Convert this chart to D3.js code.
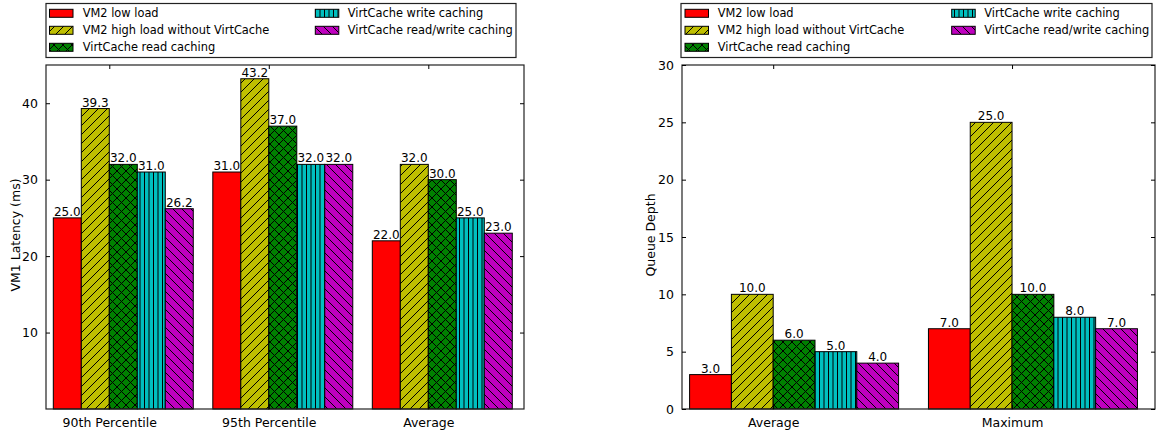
<!DOCTYPE html>
<html>
<head>
<meta charset="utf-8">
<script src="https://cdn.jsdelivr.net/npm/d3@7"></script>
<style>
  html, body { margin: 0; padding: 0; background: #fff; }
  svg { display: block; font-family: "DejaVu Sans", sans-serif; }
</style>
</head>
<body>
<svg id="chart" width="1158" height="430"></svg>
<script>
// ---------------- DATA ----------------
const seriesNames = [
  "VM2 low load",
  "VM2 high load without VirtCache",
  "VirtCache read caching",
  "VirtCache write caching",
  "VirtCache read/write caching"
];

const latencyCategories = ["90th Percentile", "95th Percentile", "Average"];
const latencyLow       = [25.0, 31.0, 22.0];
const latencyHigh      = [39.3, 43.2, 32.0];
const latencyRead      = [32.0, 37.0, 30.0];
const latencyWrite     = [31.0, 32.0, 25.0];
const latencyReadWrite = [26.2, 32.0, 23.0];
const latencyTicks     = [10, 20, 30, 40];

const queueCategories = ["Average", "Maximum"];
const queueLow       = [3.0, 7.0];
const queueHigh      = [10.0, 25.0];
const queueRead      = [6.0, 10.0];
const queueWrite     = [5.0, 8.0];
const queueReadWrite = [4.0, 7.0];
const queueTicks     = [0, 5, 10, 15, 20, 25, 30];

// ---------------- STYLE ----------------
const colors  = ["#ff0000", "#bfbf00", "#008000", "#00bfbf", "#bf00bf"];
const hatches = ["none", "fwd", "cross", "vert", "back"];

const svg = d3.select("#chart");
const defs = svg.append("defs");

// hatch patterns (background colour included)
colors.forEach((c, i) => {
  const h = hatches[i];
  const id = "pat" + i;
  if (h === "none") return;
  const w = 9;
  const p = defs.append("pattern").attr("id", id)
    .attr("patternUnits", "userSpaceOnUse")
    .attr("width", w).attr("height", 9);
  p.append("rect").attr("width", w).attr("height", 9).attr("fill", c);
  const stroke = s => s.attr("stroke", "#000").attr("stroke-width", 1).attr("fill", "none");
  if (h === "fwd" || h === "cross") {
    stroke(p.append("path").attr("d", "M0,9 L9,0 M-1,1 L1,-1 M8,10 L10,8"));
  }
  if (h === "back" || h === "cross") {
    stroke(p.append("path").attr("d", "M0,0 L9,9 M-1,8 L1,10 M8,-1 L10,1"));
  }
  if (h === "vert") {
    stroke(p.append("path").attr("d", "M0.5,0 L0.5,9 M5,0 L5,9"));
  }
});
const fillOf = i => hatches[i] === "none" ? colors[i] : `url(#pat${i})`;

// ---------------- PANEL ----------------
function drawPanel(cfg) {
  const g = svg.append("g");
  const x = d3.scaleLinear().domain(cfg.xDomain).range([cfg.left, cfg.right]);
  const y = d3.scaleLinear().domain(cfg.yDomain).range([cfg.bottom, cfg.top]);
  const w = cfg.barWidth;

  // bars
  cfg.series.forEach((vals, s) => {
    const bg = g.append("g");
    bg.selectAll("rect").data(vals).join("rect")
      .attr("x", (d, i) => x(i + s * w))
      .attr("y", d => y(d))
      .attr("width", (d, i) => x(i + (s + 1) * w) - x(i + s * w))
      .attr("height", d => y(0) - y(d))
      .attr("fill", fillOf(s))
      .attr("stroke", "#000")
      .attr("stroke-width", 1);
    bg.selectAll("text").data(vals).join("text")
      .attr("x", (d, i) => x(i + (s + 0.5) * w))
      .attr("y", d => y(d) - 2)
      .attr("text-anchor", "middle")
      .attr("font-size", 12)
      .attr("fill", "#000")
      .text(d => d3.format(".1f")(d));
  });

  // frame
  g.append("rect")
    .attr("x", cfg.left).attr("y", cfg.top)
    .attr("width", cfg.right - cfg.left).attr("height", cfg.bottom - cfg.top)
    .attr("fill", "none").attr("stroke", "#222").attr("stroke-width", 1.2);

  // y axes (left labels, inward ticks both sides)
  const yl = g.append("g").attr("transform", `translate(${cfg.left},0)`)
    .call(d3.axisLeft(y).tickValues(cfg.yTicks).tickSizeInner(-4).tickSizeOuter(0).tickPadding(8).tickFormat(d3.format("d")));
  yl.select(".domain").remove();
  yl.selectAll("text").attr("font-size", 12.5).attr("font-family", "DejaVu Sans").attr("fill", "#000");
  yl.selectAll("line").attr("stroke", "#000");
  const yr = g.append("g").attr("transform", `translate(${cfg.right},0)`)
    .call(d3.axisRight(y).tickValues(cfg.yTicks).tickSizeInner(-4).tickSizeOuter(0).tickFormat(""));
  yr.select(".domain").remove();
  yr.selectAll("line").attr("stroke", "#000");

  // x axes
  const tickPos = cfg.categories.map((c, i) => i + 2 * w);
  const xb = g.append("g").attr("transform", `translate(0,${cfg.bottom})`)
    .call(d3.axisBottom(x).tickValues(tickPos).tickSizeInner(-4).tickSizeOuter(0).tickPadding(9)
      .tickFormat((d, i) => cfg.categories[i]));
  xb.select(".domain").remove();
  xb.selectAll("text").attr("font-size", 12.5).attr("font-family", "DejaVu Sans").attr("fill", "#000");
  xb.selectAll("line").attr("stroke", "#000");
  const xt = g.append("g").attr("transform", `translate(0,${cfg.top})`)
    .call(d3.axisTop(x).tickValues(tickPos).tickSizeInner(-4).tickSizeOuter(0).tickFormat(""));
  xt.select(".domain").remove();
  xt.selectAll("line").attr("stroke", "#000");

  // y label
  g.append("text")
    .attr("transform", `translate(${cfg.yLabelX},${(cfg.top + cfg.bottom) / 2 - 2}) rotate(-90)`)
    .attr("text-anchor", "middle")
    .attr("font-size", 12.5)
    .attr("fill", "#000")
    .text(cfg.yLabel);

  // legend
  const L = cfg.legend;
  g.append("rect")
    .attr("x", L.x0).attr("y", 3.5).attr("width", L.x1 - L.x0).attr("height", 54)
    .attr("fill", "#fff").attr("stroke", "#222").attr("stroke-width", 1.2);
  const order = [[0, 0], [0, 1], [0, 2], [1, 0], [1, 1]];
  seriesNames.forEach((name, s) => {
    const [col, row] = order[s];
    const px = col === 0 ? L.p1 : L.p2;
    const tx = col === 0 ? L.t1 : L.t2;
    const by = 17.3 + row * 17;
    g.append("rect")
      .attr("x", px).attr("y", by - 8).attr("width", 23.5).attr("height", 8)
      .attr("fill", fillOf(s)).attr("stroke", "#000").attr("stroke-width", 1);
    g.append("text")
      .attr("x", tx).attr("y", by)
      .attr("font-size", 11.4)
      .attr("fill", "#000")
      .text(name);
  });
}

drawPanel({
  left: 46, right: 524, top: 65, bottom: 409,
  xDomain: [-0.0458, 2.951], yDomain: [0, 45], barWidth: 0.1755,
  categories: latencyCategories,
  series: [latencyLow, latencyHigh, latencyRead, latencyWrite, latencyReadWrite],
  yTicks: latencyTicks,
  yLabel: "VM1 Latency (ms)", yLabelX: 20,
  legend: { x0: 46, x1: 516, p1: 49.5, t1: 82.7, p2: 315.3, t2: 347.7 }
});

drawPanel({
  left: 682, right: 1155, top: 65, bottom: 409,
  xDomain: [-0.0318, 1.9485], yDomain: [0, 30], barWidth: 0.175,
  categories: queueCategories,
  series: [queueLow, queueHigh, queueRead, queueWrite, queueReadWrite],
  yTicks: queueTicks,
  yLabel: "Queue Depth", yLabelX: 655,
  legend: { x0: 681, x1: 1152, p1: 685, t1: 717.7, p2: 951.7, t2: 984.3 }
});
</script>
</body>
</html>
